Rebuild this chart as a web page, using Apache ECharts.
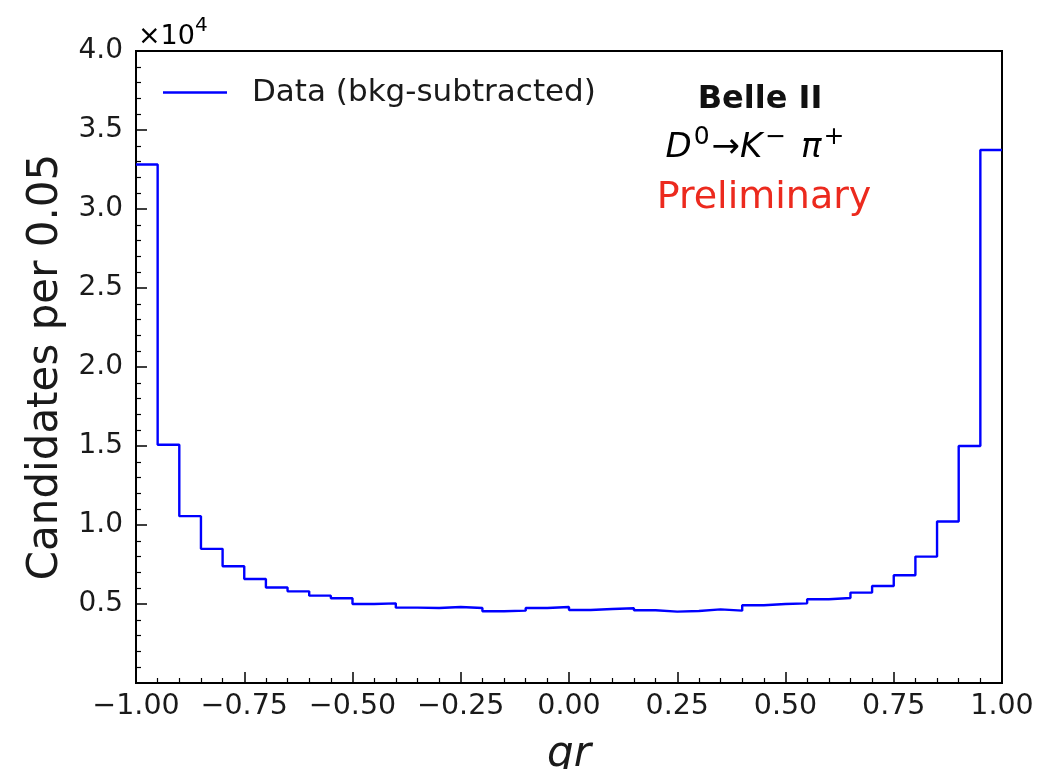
<!DOCTYPE html>
<html>
<head>
<meta charset="utf-8">
<script src="https://cdn.jsdelivr.net/npm/echarts@6/dist/echarts.min.js"></script>
<style>html,body{margin:0;padding:0;background:#fff}#c{width:1048px;height:769px}</style>
</head>
<body>
<div id="c"></div>
<script>
// ---- data ----
const binStart = -1.0;
const binWidth = 0.05;
const counts = [32820, 15080, 10560, 8490, 7390, 6580, 6040, 5800, 5530, 5360,
                5000, 5040, 4770, 4750, 4810, 4750, 4540, 4580, 4750, 4810,
                4620, 4680, 4730, 4600, 4520, 4560, 4660, 4580, 4920, 5000,
                5040, 5300, 5380, 5720, 6140, 6820, 8000, 10220, 15000, 33730];
const xTickValues = [-1.0, -0.75, -0.5, -0.25, 0.0, 0.25, 0.5, 0.75, 1.0];
const xTickLabels = ['\u22121.00', '\u22120.75', '\u22120.50', '\u22120.25', '0.00', '0.25', '0.50', '0.75', '1.00'];
const yTickValues = [5000, 10000, 15000, 20000, 25000, 30000, 35000, 40000];
const yTickLabels = ['0.5', '1.0', '1.5', '2.0', '2.5', '3.0', '3.5', '4.0'];
const seriesName = 'Data (bkg-subtracted)';

// ---- build step data (bin edges) ----
const stepData = counts.map((c, i) => [binStart + i * binWidth, c]);
stepData.push([binStart + counts.length * binWidth, counts[counts.length - 1]]);

function labelFor(values, labels, v) {
  for (let i = 0; i < values.length; i++) {
    if (Math.abs(values[i] - v) < 1e-6) return labels[i];
  }
  return '';
}

const FONT = 'DejaVu Sans';
const TXT = '#1a1a1a';

const chart = echarts.init(document.getElementById('c'), null, {renderer: 'canvas'});
chart.setOption({
  animation: false,
  backgroundColor: '#fff',
  grid: {left: 136, right: 46, top: 51, bottom: 86, show: true, borderColor: '#000', borderWidth: 2,
         containLabel: false, outerBoundsMode: 'none'},
  legend: {
    left: 163, top: 77, padding: 0,
    icon: 'rect', itemWidth: 64, itemHeight: 2.5,
    data: [seriesName],
    itemStyle: {color: '#0000ff'},
    textStyle: {fontFamily: FONT, fontSize: 31, color: TXT, padding: [0, 0, 0, 20]}
  },
  xAxis: {
    type: 'value', min: -1, max: 1, interval: 0.25,
    name: 'qr', nameLocation: 'middle', nameGap: 51,
    nameTextStyle: {fontFamily: FONT, fontSize: 42, fontStyle: 'italic', color: TXT},
    axisLine: {show: true, onZero: false, lineStyle: {color: '#000', width: 2}},
    axisTick: {show: true, inside: true, length: 11, lineStyle: {color: '#000', width: 1.5}},
    minorTick: {show: true, splitNumber: 5, length: 5, lineStyle: {color: '#000', width: 1.2}},
    splitLine: {show: false},
    axisLabel: {margin: 9, fontFamily: FONT, fontSize: 28.5, color: TXT,
      formatter: v => labelFor(xTickValues, xTickLabels, v)}
  },
  yAxis: {
    type: 'value', min: 0, max: 40000, interval: 5000,
    name: 'Candidates per 0.05', nameLocation: 'middle', nameGap: 67, nameRotate: 90,
    nameTextStyle: {fontFamily: FONT, fontSize: 42, color: TXT},
    axisLine: {show: true, onZero: false, lineStyle: {color: '#000', width: 2}},
    axisTick: {show: true, inside: true, length: 11, lineStyle: {color: '#000', width: 1.5}},
    minorTick: {show: true, splitNumber: 5, length: 5, lineStyle: {color: '#000', width: 1.2}},
    splitLine: {show: false},
    axisLabel: {margin: 13, fontFamily: FONT, fontSize: 28, color: TXT,
      formatter: v => labelFor(yTickValues, yTickLabels, v)}
  },
  series: [{
    name: seriesName,
    type: 'line',
    step: 'end',
    symbol: 'none',
    data: stepData,
    lineStyle: {color: '#0000ff', width: 2.4},
    itemStyle: {color: '#0000ff'}
  }],
  graphic: [
    {type: 'text', left: 138, top: 16, style: {
      text: '{m|\u00d710}{s|4}',
      rich: {
        m: {fontFamily: FONT, fontSize: 27, color: TXT, lineHeight: 34, verticalAlign: 'bottom'},
        s: {fontFamily: FONT, fontSize: 20, color: TXT, lineHeight: 20, verticalAlign: 'top'}
      }}},
    {type: 'text', x: 760, y: 100, style: {
      text: 'Belle II', fontFamily: FONT, fontWeight: 'bold', fontSize: 32, fill: '#111',
      align: 'center', verticalAlign: 'middle'}},
    {type: 'text', x: 756, y: 148, style: {
      text: '{i|D}{s|0}{n|\u2192}{i|K}{t|\u2212}{i| \u03c0}{s|+}',
      align: 'center', verticalAlign: 'middle',
      rich: {
        i: {fontFamily: FONT, fontStyle: 'italic', fontSize: 34, color: TXT, lineHeight: 46, verticalAlign: 'middle'},
        n: {fontFamily: FONT, fontSize: 34, color: TXT, lineHeight: 46, verticalAlign: 'middle'},
        s: {fontFamily: FONT, fontSize: 25, color: TXT, lineHeight: 28, verticalAlign: 'top', padding: [0, 2, 0, 2]},
        t: {fontFamily: FONT, fontSize: 25, color: TXT, lineHeight: 28, verticalAlign: 'top', padding: [0, 4, 0, 3]}
      }}},
    {type: 'text', x: 764, y: 198, style: {
      text: 'Preliminary', fontFamily: FONT, fontSize: 38, fill: '#ec2a1e',
      align: 'center', verticalAlign: 'middle'}}
  ]
});
</script>
</body>
</html>
